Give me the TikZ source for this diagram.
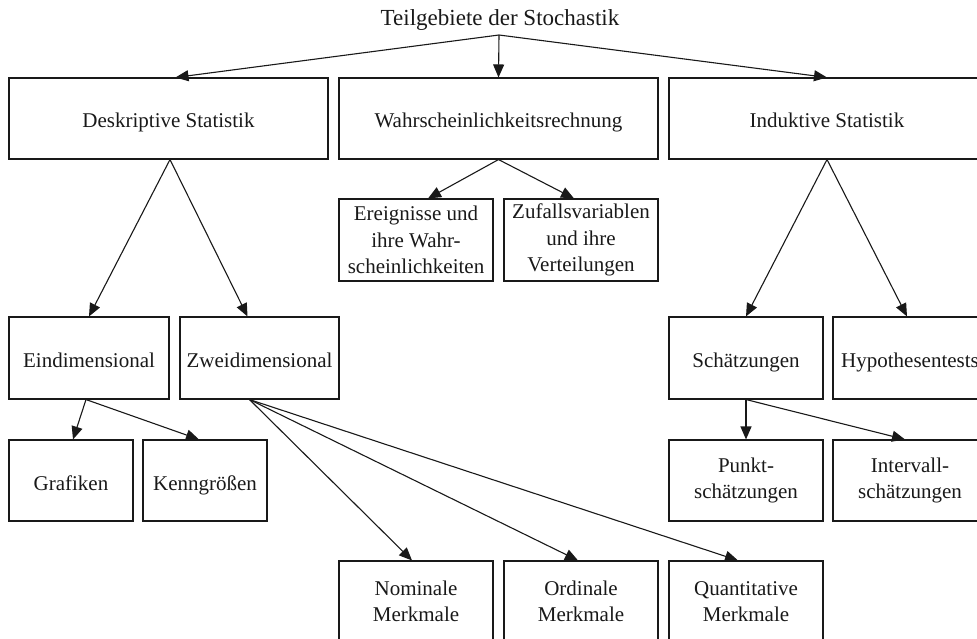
\documentclass[tikz,border=0pt]{standalone}
\usepackage{fontspec}
\setmainfont{Liberation Serif}
\usetikzlibrary{arrows.meta}
\begin{document}
\begin{tikzpicture}[x=1pt,y=-1pt,
  box/.style={draw=black!90, line width=1.1pt, inner sep=0pt, align=center,
    font=\fontsize{21}{26.5}\selectfont, text=black!90},
  one/.style={text height=20pt, text depth=1pt},
  wide/.style={box, one, minimum width=319pt, minimum height=81pt},
  mid/.style={box, minimum width=154pt, minimum height=82pt},
  small/.style={box, one, minimum width=124pt, minimum height=81pt},
  conn/.style={draw=black!90, line width=1.1pt, -{Triangle[length=13pt,width=11pt]}}]
\useasboundingbox (0,0) rectangle (977,639);
\clip (0,0) rectangle (977,639);
\node[font=\fontsize{23}{27}\selectfont, text=black!90] (title) at (500,20) {Teilgebiete der Stochastik};
\coordinate (top) at (499,35);
\node[wide] (desk) at (168.5,118.5) {Deskriptive Statistik};
\node[wide] (wahr) at (498.5,118.5) {Wahrscheinlichkeitsrechnung};
\node[wide, minimum width=316pt] (ind) at (827,118.5) {Induktive Statistik};
\node[mid] (ereig) at (416,240) {Ereignisse und\\ihre Wahr-\\scheinlichkeiten};
\node[mid] (zuf) at (581,240) {Zufallsvariablen\\und ihre\\Verteilungen};
\node[mid, one, minimum width=160pt] (eind) at (89,358) {Eindimensional};
\node[mid, one, minimum width=159pt] (zwei) at (259.5,358) {Zweidimensional};
\node[mid, one] (schae) at (746,358) {Schätzungen};
\node[mid, one] (hypo) at (910,358) {Hypothesentests};
\node[small] (graf) at (71,480.5) {Grafiken};
\node[small] (kenn) at (205,480.5) {Kenngrößen};
\node[mid, minimum height=81pt] (punkt) at (746,480.5) {Punkt-\\schätzungen};
\node[mid, minimum height=81pt] (interv) at (910,480.5) {Intervall-\\schätzungen};
\node[mid, minimum height=81pt] (nom) at (416,601.5) {Nominale\\Merkmale};
\node[mid, minimum height=81pt] (ord) at (581,601.5) {Ordinale\\Merkmale};
\node[mid, minimum height=81pt] (quant) at (746,601.5) {Quantitative\\Merkmale};
\draw[conn] (top) -- ([xshift=7pt]desk.north);
\draw[conn] (top) -- (wahr.north);
\draw[conn] (top) -- (ind.north);
\draw[conn] ([xshift=1.5pt]desk.south) -- (eind.north);
\draw[conn] ([xshift=1.5pt]desk.south) -- ([xshift=-12pt]zwei.north);
\draw[conn] (wahr.south) -- ([xshift=12pt]ereig.north);
\draw[conn] (wahr.south) -- ([xshift=-7pt]zuf.north);
\draw[conn] (ind.south) -- (schae.north);
\draw[conn] (ind.south) -- ([xshift=-3pt]hypo.north);
\draw[conn] ([xshift=-3pt]eind.south) -- ([xshift=2pt]graf.north);
\draw[conn] ([xshift=-3pt]eind.south) -- ([xshift=-6pt]kenn.north);
\draw[conn] ([xshift=-10pt]zwei.south) -- ([xshift=-4pt]nom.north);
\draw[conn] ([xshift=-10pt]zwei.south) -- ([xshift=-3pt]ord.north);
\draw[conn] ([xshift=-10pt]zwei.south) -- ([xshift=-8pt]quant.north);
\draw[conn] (schae.south) -- (punkt.north);
\draw[conn] (schae.south) -- ([xshift=-5pt]interv.north);
\end{tikzpicture}
\end{document}
